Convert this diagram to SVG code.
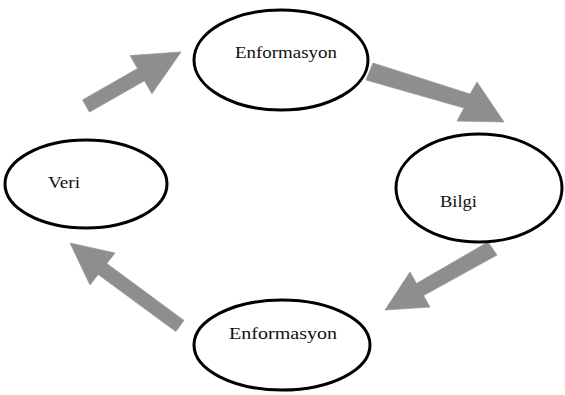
<svg xmlns="http://www.w3.org/2000/svg" width="565" height="395" viewBox="0 0 565 395">
<style>
.node ellipse{fill:#ffffff;stroke:#000000;stroke-width:3}
.node text{font-family:"Liberation Serif","DejaVu Serif",serif;font-size:17px;fill:#111111}
.arrow{fill:#8e8e8e;stroke:#9a9a9a;stroke-width:0.8;stroke-linejoin:miter}
</style>
<rect width="565" height="395" fill="#ffffff"/>
<g id="connectors">
<polygon class="arrow" points="82.5,99.9 137.5,68.6 130.1,55.6 181,52 151.9,93.8 144.5,80.8 89.5,112.1"/>
<polygon class="arrow" points="373,63 470,94 477,82 504,122 457,121 464,108 366,80"/>
<polygon class="arrow" points="488,242 416.5,283.4 410,272 385,310 430,307 423.5,295.6 497,255"/>
<polygon class="arrow" points="70,243 115,253 106.8,263.5 184,320.4 175.9,331.6 98.2,274.5 90,285"/>
</g>
<g id="node-enformasyon-top" class="node">
<ellipse cx="281" cy="60" rx="87" ry="50"/>
<text x="235" y="58" font-family="Liberation Serif, serif" textLength="102" lengthAdjust="spacingAndGlyphs">Enformasyon</text>
</g>
<g id="node-bilgi" class="node">
<ellipse cx="479" cy="188" rx="83" ry="54"/>
<text x="440" y="207" font-family="Liberation Serif, serif" textLength="37" lengthAdjust="spacingAndGlyphs">Bilgi</text>
</g>
<g id="node-enformasyon-bottom" class="node">
<ellipse cx="282" cy="345" rx="88" ry="45"/>
<text x="229" y="339" font-family="Liberation Serif, serif" textLength="108" lengthAdjust="spacingAndGlyphs">Enformasyon</text>
</g>
<g id="node-veri" class="node">
<ellipse cx="86" cy="184" rx="81" ry="44"/>
<text x="48" y="188" font-family="Liberation Serif, serif" textLength="32" lengthAdjust="spacingAndGlyphs">Veri</text>
</g>
</svg>
